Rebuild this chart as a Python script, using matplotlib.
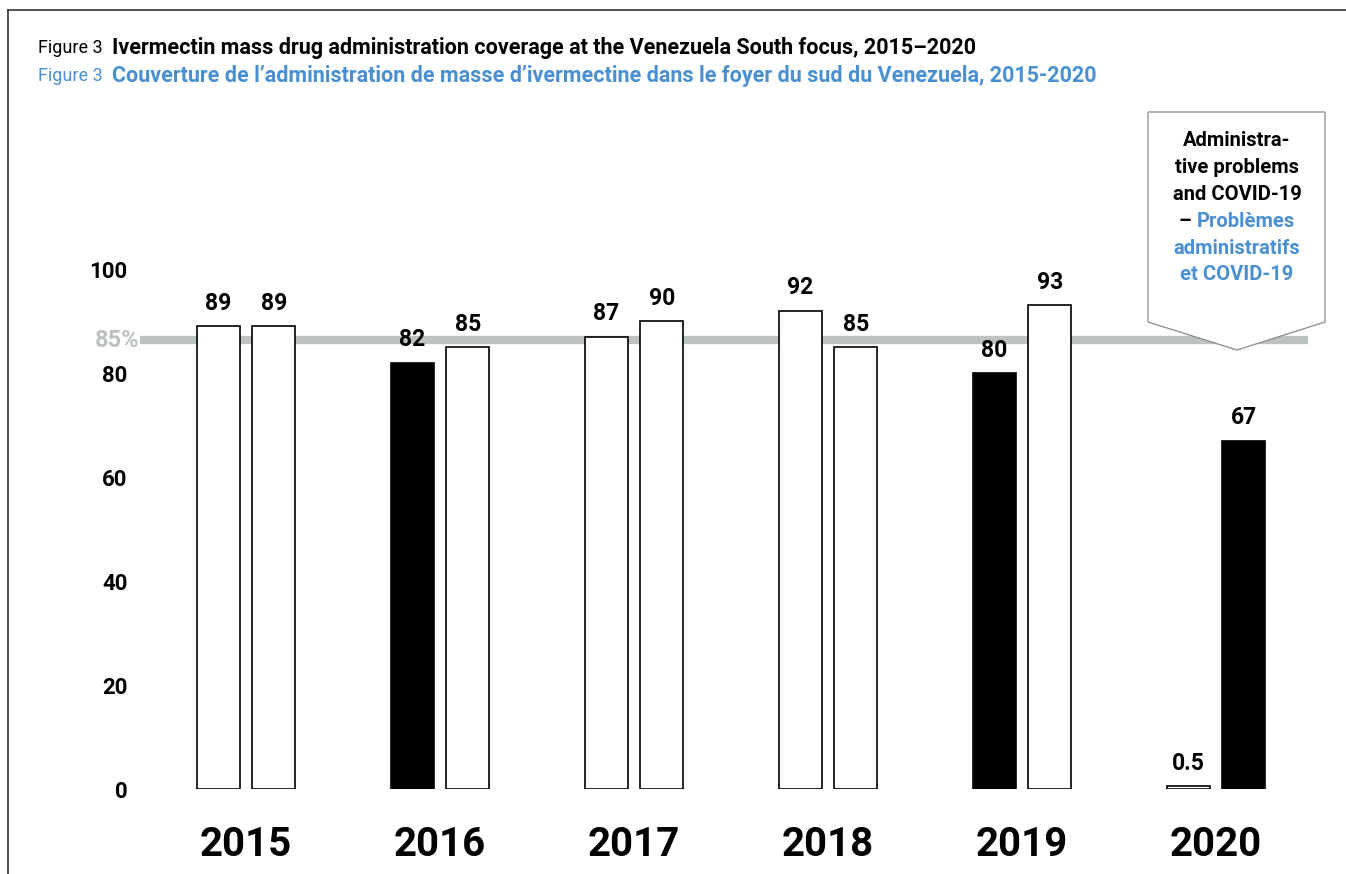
import numpy as np
import matplotlib.pyplot as plt
from matplotlib.patches import Polygon
from matplotlib.lines import Line2D

plt.rcParams['font.family'] = ['Roboto', 'DejaVu Sans']

years = ['2015', '2016', '2017', '2018', '2019', '2020']
first_round = [89, 82, 87, 92, 80, 0.5]
second_round = [89, 85, 90, 85, 93, 67]
first_colors = ['white', 'black', 'white', 'white', 'black', 'white']
second_colors = ['white', 'white', 'white', 'white', 'white', 'black']
target_pos = 86.3   # where the 85% line sits in the picture
yticks = [0, 20, 40, 60, 80, 100]
blue = '#4a8fd0'

W, H = 1346, 874
fig = plt.figure(figsize=(W / 100, H / 100), dpi=100)
ax = fig.add_axes([140 / W, 1 - 789 / H, (1308 - 140) / W, (789 - 269) / H])

x = np.arange(len(years))
off = 0.143
bw = 0.222

ax.axhline(target_pos, color='#bcc2bd', lw=6, zorder=1)

ax.bar(x - off, first_round, bw, color=first_colors, edgecolor='black', lw=1.2, zorder=2)
ax.bar(x + off, second_round, bw, color=second_colors, edgecolor='black', lw=1.2, zorder=2)

for xi, v in zip(x - off, first_round):
    ax.text(xi, v + 2.2, f'{v:g}', ha='center', va='bottom', fontsize=16.5, fontweight='bold')
for xi, v in zip(x + off, second_round):
    ax.text(xi, v + 2.2, f'{v:g}', ha='center', va='bottom', fontsize=16.5, fontweight='bold')

ax.set_xlim((140 - 246) / 194, (1308 - 246) / 194)
ax.set_ylim(0, 100)
ax.set_xticks(x)
ax.set_xticklabels(years, fontsize=29, fontweight='bold')
ax.set_yticks(yticks)
ax.set_yticklabels([str(t) for t in yticks], fontsize=16, fontweight='bold')
ax.tick_params(length=0)
ax.tick_params(axis='y', pad=9)
ax.tick_params(axis='x', pad=27)
for s in ax.spines.values():
    s.set_visible(False)

ax.text(-0.548, target_pos, '85%', color='#bcc2bd', fontsize=17, fontweight='bold',
        ha='right', va='center')


# callout box above 2020
def xd(px):
    return (px - 246) / 194


def yd(py):
    return (789 - py) / 5.2


cx = xd(1237)
box = Polygon([(xd(1148), yd(112)), (xd(1325), yd(112)), (xd(1325), yd(322)),
               (xd(1237), yd(350)), (xd(1148), yd(322))],
              closed=True, facecolor='white', edgecolor='#8a8a8a', lw=0.9,
              clip_on=False, zorder=3)
ax.add_patch(box)
lines = [('Administra-', 'black'), ('tive problems', 'black'), ('and COVID-19', 'black'),
         (None, None), ('administratifs', blue), ('et COVID-19', blue)]
fs_box = 14.5
ly = 141
renderer = fig.canvas.get_renderer()
for txt, col in lines:
    if txt is None:
        # measure the whole line, then draw the two colours inside that extent
        probe = ax.text(cx, yd(ly), '– Problèmes', fontsize=fs_box, fontweight='bold',
                        ha='center', va='center', clip_on=False)
        bb = probe.get_window_extent(renderer).transformed(ax.transData.inverted())
        probe.remove()
        ax.text(bb.x0, yd(ly), '–', color='black', fontsize=fs_box, fontweight='bold',
                ha='left', va='center', clip_on=False, zorder=4)
        ax.text(bb.x1, yd(ly), 'Problèmes', color=blue, fontsize=fs_box, fontweight='bold',
                ha='right', va='center', clip_on=False, zorder=4)
    else:
        ax.text(cx, yd(ly), txt, color=col, fontsize=fs_box, fontweight='bold',
                ha='center', va='center', clip_on=False, zorder=4)
    ly += 26.8

# titles
fig.text(38 / W, 1 - 48 / H, 'Figure 3', fontsize=13, va='center', color='black')
fig.text(112 / W, 1 - 48 / H,
         'Ivermectin mass drug administration coverage at the Venezuela South focus, 2015–2020',
         fontsize=15.5, fontweight='bold', va='center', color='black')
fig.text(38 / W, 1 - 76 / H, 'Figure 3', fontsize=13, va='center', color=blue)
fig.text(112 / W, 1 - 76 / H,
         'Couverture de l’administration de masse d’ivermectine dans le foyer du sud du Venezuela, 2015-2020',
         fontsize=15.5, fontweight='bold', va='center', color=blue)

# frame lines
fig.add_artist(Line2D([8 / W, 1], [1 - 10 / H, 1 - 10 / H], color='#333333', lw=1.2))
fig.add_artist(Line2D([8 / W, 8 / W], [0, 1 - 10 / H], color='#333333', lw=1.2))

fig.savefig('out.png', dpi=100)
